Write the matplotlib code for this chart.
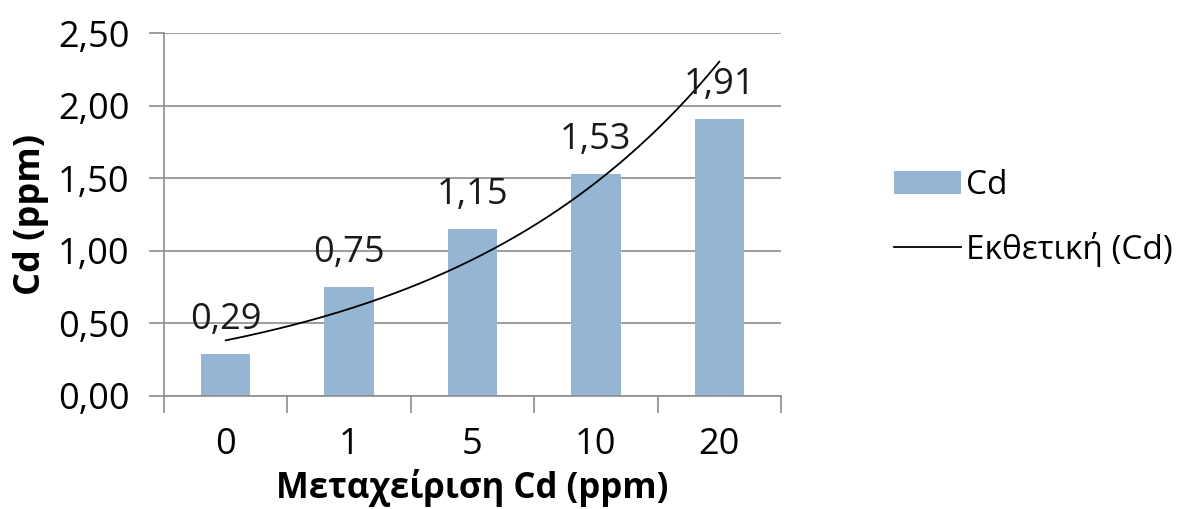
import numpy as np
import matplotlib
matplotlib.use("Agg")
import matplotlib.pyplot as plt
from matplotlib.ticker import FuncFormatter

# data
categories = ["0", "1", "5", "10", "20"]
cd_values = [0.29, 0.75, 1.15, 1.53, 1.91]

bar_color = "#94B6D2"
grid_color = "#8C8C8C"

plt.rcParams['font.family'] = ['Open Sans', 'DejaVu Sans']

fig = plt.figure(figsize=(12.03, 5.09), dpi=100)
ax = fig.add_axes([164 / 1203, 1 - 396 / 509, 617 / 1203, 363 / 509])

x = np.arange(len(categories))
bars = ax.bar(x, cd_values, width=0.4, color=bar_color, zorder=2, label="Cd")

# exponential trendline (least squares on log values)
b, ln_a = np.polyfit(x + 1, np.log(cd_values), 1)
xs = np.linspace(1, 5, 200)
trend, = ax.plot(xs - 1, np.exp(ln_a + b * xs), color="black", lw=1.3, zorder=3,
                 label="Εκθετική (Cd)")

for xi, v in zip(x, cd_values):
    ax.text(xi, v + 0.11, f"{v:.2f}".replace(".", ","), ha="center", va="bottom",
            fontsize=26, color="#1a1a1a", zorder=4)

ax.set_xlim(-0.5, 4.5)
ax.set_ylim(0, 2.5)
ax.set_yticks(np.arange(0, 2.51, 0.5))
ax.yaxis.set_major_formatter(FuncFormatter(lambda v, p: f"{v:.2f}".replace(".", ",")))
ax.set_xticks(x)
ax.set_xticklabels(categories)
ax.set_xticks(np.arange(-0.5, 5, 1), minor=True)
ax.tick_params(axis="x", which="major", length=0, labelsize=26, pad=22)
ax.tick_params(axis="x", which="minor", length=12, color=grid_color, width=1.2)
ax.tick_params(axis="y", length=11, color=grid_color, width=1.2, labelsize=26, pad=14)

ax.grid(axis="y", color=grid_color, lw=1.2, zorder=0)
for s in ["top", "right"]:
    ax.spines[s].set_visible(False)
for s in ["left", "bottom"]:
    ax.spines[s].set_color(grid_color)
    ax.spines[s].set_linewidth(1.2)

ax.set_ylabel("Cd (ppm)", fontsize=26, fontweight="bold", labelpad=6)
fig.text((164 + 781) / 2 / 1203, 1 - 488 / 509, "Μεταχείριση Cd (ppm)",
         fontsize=25, fontweight="bold", ha="center", va="center")

ax.legend([bars, trend], ["Cd", "Εκθετική (Cd)"], loc="center left",
          bbox_to_anchor=(1.135, 0.49), frameon=False, fontsize=24,
          handlelength=2.0, handletextpad=0.15, labelspacing=0.9)

fig.savefig("out.png", dpi=100)
